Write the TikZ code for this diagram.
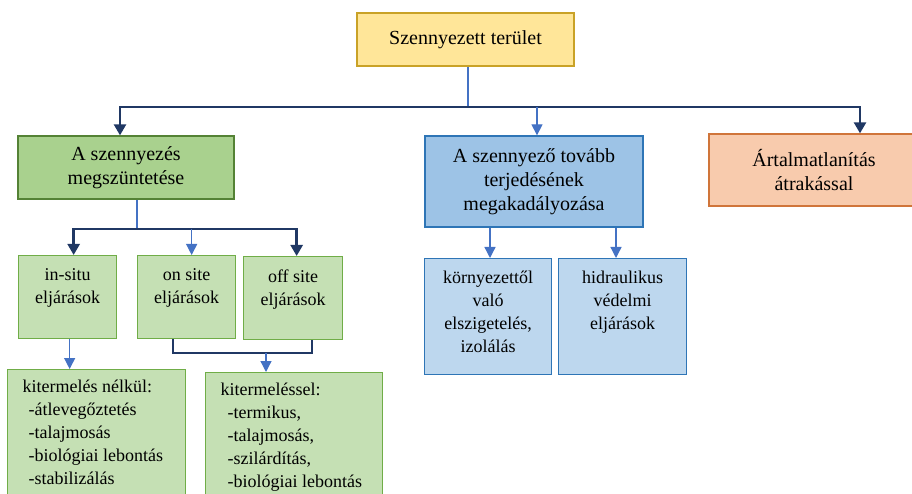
\documentclass[tikz,border=0pt]{standalone}
\usepackage{fontspec}
\setmainfont{Liberation Serif}
\usetikzlibrary{arrows.meta}

\definecolor{navyc}{HTML}{203864}
\definecolor{linkc}{HTML}{4472C4}
\definecolor{yelfill}{HTML}{FFE699}
\definecolor{yelline}{HTML}{C9A227}
\definecolor{grnfill}{HTML}{A9D18E}
\definecolor{grnline}{HTML}{548235}
\definecolor{lgrfill}{HTML}{C5E0B4}
\definecolor{lgrline}{HTML}{70AD47}
\definecolor{blufill}{HTML}{9DC3E6}
\definecolor{bluline}{HTML}{2E75B6}
\definecolor{lblfill}{HTML}{BDD7EE}
\definecolor{orgfill}{HTML}{F8CBAD}
\definecolor{orgline}{HTML}{D0753A}

% top-aligned cell text: width, height, top gap, content
\newcommand\celltext[4]{\parbox[c][#2pt][t]{#1pt}{\vspace*{#3pt}#4}}
\newcommand\bigfont{\fontsize{20}{24}\selectfont}
\newcommand\smallfont{\fontsize{18}{23}\selectfont}

\begin{document}
\begin{tikzpicture}[x=1pt,y=-1pt,
  boxbase/.style={draw, rectangle, inner sep=0pt, line width=1.3pt},
  headbox/.style={boxbase, align=center, font=\bigfont},
  cellbox/.style={boxbase, anchor=north west},
  navyline/.style={draw=navyc, line width=2.4pt},
  linkline/.style={draw=linkc, line width=1.3pt},
  navytip/.style={-{Triangle[width=12pt,length=11pt]}},
  linktip/.style={-{Triangle[width=11pt,length=11pt]}},
]
\useasboundingbox (0,0) rectangle (912,494);
\clip (0,0) rectangle (912,494);

% --- top level ---
\node[headbox, fill=yelfill, draw=yelline, minimum width=217pt, minimum height=53pt]
  (top) at (465.5,39.5) {Szennyezett terület};

\node[headbox, fill=grnfill, draw=grnline, minimum width=216pt, minimum height=63pt]
  (green) at (126,167.5) {A szennyezés\\megszüntetése};

\node[headbox, fill=blufill, draw=bluline, minimum width=218pt, minimum height=91pt]
  (blue) at (534,181.5) {A szennyező tovább\\terjedésének\\megakadályozása};

\node[headbox, fill=orgfill, draw=orgline, minimum width=210pt, minimum height=72pt]
  (orange) at (814,170) {Ártalmatlanítás\\átrakással};

% --- second level, green branch ---
\node[cellbox, fill=lgrfill, draw=lgrline] (insitu) at (18,255)
  {\celltext{98}{83}{13}{\centering\smallfont in-situ\\eljárások}};
\node[cellbox, fill=lgrfill, draw=lgrline] (onsite) at (137,255)
  {\celltext{98}{83}{13}{\centering\smallfont on site\\eljárások}};
\node[cellbox, fill=lgrfill, draw=lgrline] (offsite) at (243,256)
  {\celltext{99}{83}{13}{\centering\smallfont off site\\eljárások}};

% --- second level, blue branch ---
\node[cellbox, fill=lblfill, draw=bluline] (isolate) at (424,258)
  {\celltext{127}{116}{12}{\centering\smallfont környezettől\\való\\elszigetelés,\\izolálás}};
\node[cellbox, fill=lblfill, draw=bluline] (hydro) at (558,258)
  {\celltext{128}{116}{12}{\centering\smallfont hidraulikus\\védelmi\\eljárások}};

% --- third level ---
\node[cellbox, fill=lgrfill, draw=lgrline] (noexc) at (7,369)
  {\celltext{178}{140}{10}{\raggedright\smallfont\hspace*{15pt}kitermelés nélkül:\\
   \hspace*{21pt}-átlevegőztetés\\
   \hspace*{21pt}-talajmosás\\
   \hspace*{21pt}-biológiai lebontás\\
   \hspace*{21pt}-stabilizálás}};
\node[cellbox, fill=lgrfill, draw=lgrline] (withexc) at (205,372)
  {\celltext{177}{140}{10}{\raggedright\smallfont\hspace*{15pt}kitermeléssel:\\
   \hspace*{22pt}-termikus,\\
   \hspace*{22pt}-talajmosás,\\
   \hspace*{22pt}-szilárdítás,\\
   \hspace*{22pt}-biológiai lebontás}};

% --- connectors from the top box ---
\coordinate (hub) at (468,107);
\draw[linkline] (top.south -| hub) -- (hub);
\draw[navyline, navytip] (hub) -| ([xshift=-6pt]green.north);
\draw[navyline, navytip] (hub) -| ([xshift=46pt]orange.north);
\draw[linkline, linktip] ([xshift=3pt]blue.north |- hub) -- ([xshift=3pt]blue.north);

% --- green branch ---
\coordinate (gsplit) at (137,229);
\draw[linkline] (green.south -| gsplit) -- (gsplit);
\draw[navyline, navytip] (gsplit) -| ([xshift=6pt]insitu.north);
\draw[navyline, navytip] (gsplit) -| ([xshift=3.5pt]offsite.north);
\draw[linkline, linktip] ([xshift=5pt]onsite.north |- gsplit) -- ([xshift=5pt]onsite.north);

\draw[linkline, linktip] ([xshift=2pt]insitu.south) -- ([xshift=2pt]insitu.south |- noexc.north);

\coordinate (brk) at (266,353);
\draw[navyline, line width=2pt] ([xshift=-14pt]onsite.south) |- (brk) -| ([xshift=18.5pt]offsite.south);
\draw[linkline, linktip] (brk) -- (brk |- withexc.north);

% --- blue branch ---
\draw[linkline, linktip] ([xshift=-44pt]blue.south) -- ([xshift=-44pt]blue.south |- isolate.north);
\draw[linkline, linktip] ([xshift=82pt]blue.south) -- ([xshift=82pt]blue.south |- hydro.north);
\end{tikzpicture}
\end{document}
